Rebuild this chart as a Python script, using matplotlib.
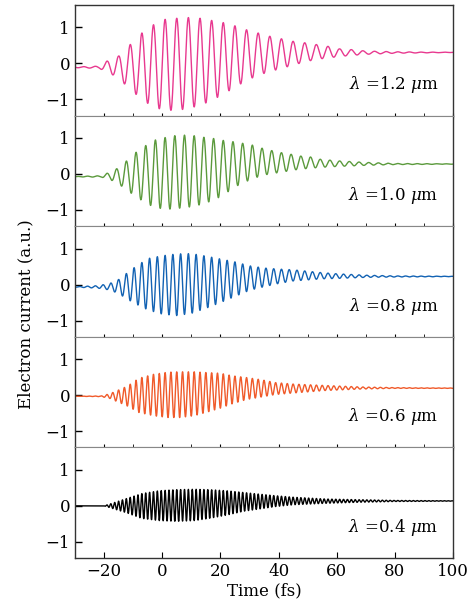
import matplotlib
matplotlib.use("Agg")
import matplotlib.pyplot as plt
import numpy as np

# wavelengths (um) and line colours, top to bottom
wavelengths = [1.2, 1.0, 0.8, 0.6, 0.4]
colors = ["#e8398f", "#5b9a3c", "#1262b3", "#f05a2a", "#000000"]

# envelope readings (time in fs, upper / lower extremes in a.u.)
t_12 = [-30, -22, -19, -15, -11, -7, -3, 1, 5, 9, 13, 17, 21, 25, 29, 33, 37, 41, 45, 49, 53, 57, 61, 65, 70, 80, 90, 100]
up_12 = [-0.10, -0.08, 0.06, 0.20, 0.52, 0.84, 1.07, 1.22, 1.25, 1.27, 1.25, 1.19, 1.13, 1.04, 0.93, 0.84, 0.75, 0.68,
         0.61, 0.57, 0.52, 0.47, 0.40, 0.38, 0.34, 0.32, 0.31, 0.31]
lo_12 = [-0.12, -0.14, -0.22, -0.42, -0.72, -1.00, -1.22, -1.30, -1.31, -1.25, -1.17, -1.03, -0.86, -0.66, -0.48, -0.33,
         -0.23, -0.14, -0.05, 0.04, 0.11, 0.15, 0.19, 0.22, 0.25, 0.28, 0.29, 0.30]

t_10 = [-30, -21, -18, -15, -12, -9, -6, -3, 1, 4, 7, 11, 14, 18, 21, 24, 27, 31, 34, 37, 41, 44, 47, 51, 54, 58, 61, 70, 80, 100]
up_10 = [-0.07, -0.05, 0.05, 0.17, 0.38, 0.60, 0.77, 0.93, 1.01, 1.06, 1.08, 1.06, 1.02, 0.98, 0.93, 0.90, 0.86, 0.80,
         0.72, 0.66, 0.59, 0.55, 0.50, 0.47, 0.41, 0.38, 0.36, 0.32, 0.29, 0.28]
lo_10 = [-0.08, -0.09, -0.15, -0.28, -0.45, -0.64, -0.78, -0.92, -0.98, -0.97, -0.94, -0.90, -0.83, -0.72, -0.58, -0.42,
         -0.27, -0.14, -0.05, 0.00, 0.05, 0.09, 0.13, 0.16, 0.18, 0.20, 0.21, 0.24, 0.26, 0.27]

t_08 = [-30, -22, -18, -15, -10, -5, 0, 5, 10, 15, 20, 25, 30, 35, 40, 45, 50, 55, 60, 70, 80, 100]
up_08 = [-0.06, -0.03, 0.03, 0.14, 0.45, 0.72, 0.80, 0.85, 0.86, 0.79, 0.71, 0.63, 0.52, 0.46, 0.43, 0.41, 0.37, 0.33,
         0.30, 0.26, 0.24, 0.23]
lo_08 = [-0.07, -0.10, -0.15, -0.25, -0.50, -0.70, -0.82, -0.86, -0.80, -0.66, -0.50, -0.33, -0.16, -0.06, 0.03, 0.10,
         0.13, 0.16, 0.17, 0.20, 0.21, 0.22]

t_06 = [-30, -21, -18, -12, -8, -3, 2, 6, 11, 15, 20, 24, 29, 34, 39, 45, 56, 68, 80, 100]
up_06 = [-0.03, -0.02, 0.04, 0.25, 0.47, 0.58, 0.64, 0.65, 0.65, 0.63, 0.61, 0.54, 0.49, 0.43, 0.35, 0.31, 0.27, 0.23,
         0.21, 0.20]
lo_06 = [-0.03, -0.04, -0.09, -0.30, -0.48, -0.57, -0.62, -0.62, -0.57, -0.48, -0.36, -0.24, -0.12, -0.05, 0.02, 0.06,
         0.13, 0.17, 0.19, 0.19]

t_04 = [-30, -20, -18, -12, -7, -1, 5, 11, 16, 22, 28, 34, 39, 45, 56, 68, 80, 100]
up_04 = [0.0, 0.0, 0.05, 0.21, 0.34, 0.42, 0.45, 0.46, 0.45, 0.42, 0.37, 0.32, 0.28, 0.24, 0.19, 0.17, 0.15, 0.14]
lo_04 = [0.0, 0.0, -0.05, -0.20, -0.35, -0.41, -0.43, -0.41, -0.35, -0.26, -0.15, -0.08, -0.02, 0.03, 0.07, 0.10,
         0.12, 0.13]

envelopes = [(t_12, up_12, lo_12), (t_10, up_10, lo_10), (t_08, up_08, lo_08),
             (t_06, up_06, lo_06), (t_04, up_04, lo_04)]

plt.rcParams["font.family"] = ["DejaVu Serif"]
plt.rcParams["mathtext.fontset"] = "dejavuserif"

fig, axes = plt.subplots(5, 1, sharex=True, figsize=(4.77, 6.16), dpi=100)
fig.subplots_adjust(left=0.157, right=0.950, top=0.992, bottom=0.094, hspace=0)

t = np.linspace(-30, 100, 30000)
for i, ax in enumerate(axes):
    tn, up, lo = envelopes[i]
    upper = np.interp(t, tn, up)
    lower = np.interp(t, tn, lo)
    period = wavelengths[i] / 0.3  # optical period in fs
    y = (upper + lower) / 2 + (upper - lower) / 2 * np.cos(2 * np.pi * (t - 1.0) / period)
    ax.plot(t, y, color=colors[i], lw=1.0)

    ax.set_xlim(-30, 100)
    ax.set_ylim(-1.45, 1.62)
    ax.set_yticks([-1, 0, 1])
    ax.set_yticklabels(["\u22121", "0", "1"])
    ax.set_xticks([-20, 0, 20, 40, 60, 80, 100])
    ax.set_xticks(np.arange(-30, 100, 10), minor=True)
    ax.tick_params(axis="y", direction="in", length=5, labelsize=12, width=1.0, right=False)
    ax.tick_params(axis="x", which="major", direction="inout", length=4, width=0.8, labelsize=12)
    ax.tick_params(axis="x", which="minor", direction="in", length=2, width=0.6)
    for side in ["left", "right"]:
        ax.spines[side].set_color("#333333")
        ax.spines[side].set_linewidth(1.0)
    ax.spines["top"].set_color("#333333" if i == 0 else "#888888")
    ax.spines["bottom"].set_color("#333333" if i == 4 else "#888888")
    ax.spines["top"].set_linewidth(1.0 if i == 0 else 0.8)
    ax.spines["bottom"].set_linewidth(1.0 if i == 4 else 0.8)

    ax.text(95, -0.6, r"$\lambda$ =%.1f $\mu$m" % wavelengths[i], ha="right", va="center", fontsize=12)

axes[-1].tick_params(axis="x", which="major", direction="in", length=4)
axes[-1].tick_params(axis="x", which="minor", length=0)
axes[-1].set_xticklabels(["\u221220", "0", "20", "40", "60", "80", "100"])
axes[-1].set_xlabel("Time (fs)", fontsize=12, labelpad=2)
fig.text(0.055, 0.49, "Electron current (a.u.)", rotation=90, ha="center", va="center", fontsize=12)

fig.savefig("out.png", dpi=100)
